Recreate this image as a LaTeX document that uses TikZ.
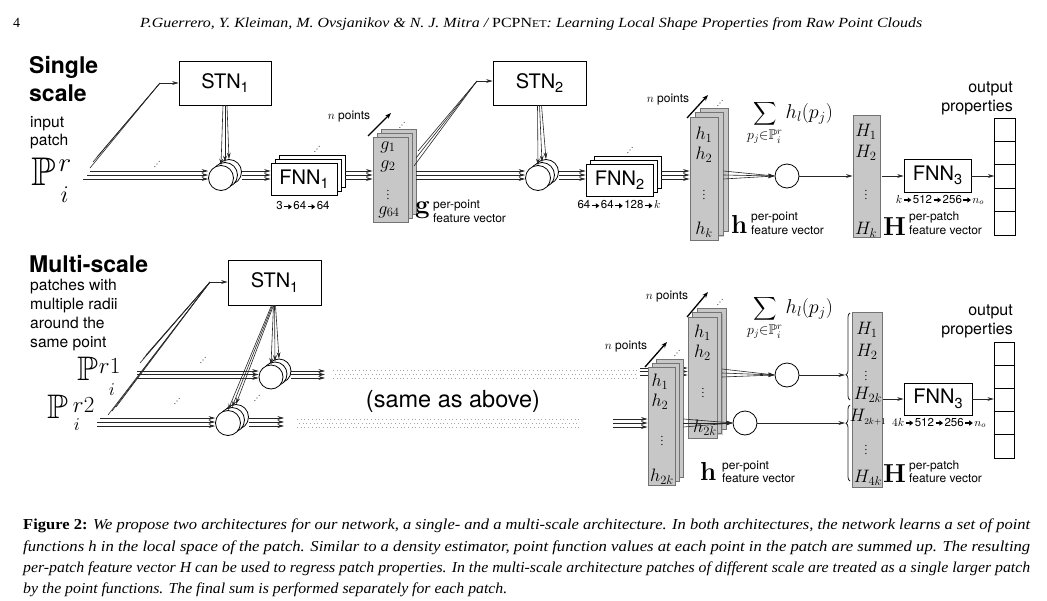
\RequirePackage{fix-cm}
\documentclass[tikz,border=0pt]{standalone}
\usepackage{graphicx}
\usepackage{exscale}
\usepackage{amssymb}
\DeclareFontFamily{U}{msb}{}
\DeclareFontShape{U}{msb}{m}{n}{<-> msbm10}{}
\usepackage[no-math]{fontspec}
\setmainfont{Liberation Serif}
\setsansfont{TeX Gyre Heros}
\usetikzlibrary{arrows.meta,shadows,decorations.pathreplacing,calc}
\newcommand\lsub[1]{\raisebox{-4.5pt}{\fontsize{14.5}{14.5}\selectfont #1}}
\newcommand\rar{\kern1pt\tikz[baseline=-3.2pt]\draw[line width=1.1pt,-{Triangle[length=3.6pt,width=5pt]}] (0pt,0pt)--(7.5pt,0pt);\kern1pt}
\newcommand\udots[1]{\fill[black!75] ($(#1)+(-2.2,2.6)$) circle (0.6) (#1) circle (0.6) ($(#1)+(2.2,-2.6)$) circle (0.6);}
\newcommand\bigsum{\mathop{\vcenter{\hbox{\resizebox*{!}{26pt}{$\displaystyle\sum$}}}}\limits}
\begin{document}
\begin{tikzpicture}[x=1pt,y=-1pt,
  ln/.style={line width=0.6pt, draw=black!85},
  arr/.style={ln, -{Stealth[length=6.5pt,width=3.8pt]}},
  box/.style={draw, line width=0.8pt, fill=white, inner sep=0pt, font=\sffamily\fontsize{20}{20}\selectfont},
  crc/.style={circle, draw, line width=0.8pt, fill=white, inner sep=0pt},
  col/.style={rectangle, draw=black!55, line width=0.9pt, fill=black!22, inner sep=0pt, drop shadow={shadow xshift=1.2pt, shadow yshift=-1.2pt, opacity=0.4}},
  cell/.style={draw, line width=0.8pt, inner sep=0pt, minimum width=20.5pt},
  ttl/.style={font=\sffamily\bfseries\fontsize{23}{26}\selectfont, anchor=base west, inner sep=0pt},
  desc/.style={font=\sffamily\fontsize{15.6}{19}\selectfont, anchor=base west, inner sep=0pt},
  sm/.style={font=\sffamily\fontsize{12}{13}\selectfont, inner sep=0pt},
  smw/.style={sm, anchor=base west},
  dim/.style={font=\sffamily\fontsize{11.5}{12}\selectfont, inner sep=0pt},
  mlab/.style={font=\fontsize{18}{18}\selectfont, inner sep=0pt},
  vd/.style={font=\fontsize{11}{11}\selectfont, inner sep=0pt},
  bigl/.style={font=\fontsize{26}{26}\selectfont, inner sep=0pt, anchor=base west},
  npt/.style={line width=1.3pt, -{Stealth[length=6pt,width=4.5pt]}},
  dotband/.style={line width=0.9pt, draw=black!35, dash pattern=on 0.9pt off 2.8pt},
  serif/.style={inner sep=0pt, anchor=base west},
  sumf/.style={font=\fontsize{20}{20}\selectfont, inner sep=0pt},
]
\useasboundingbox (0,0) rectangle (1047,600);

% ---------- header ----------
\node[serif, font=\fontsize{14}{14}\selectfont] (pg) at (13,27) {4};
\node[serif, font=\fontsize{14}{14}\selectfont] (hd) at (140,27) {\resizebox{782pt}{\height}{\itshape P.Guerrero, Y. Kleiman, M. Ovsjanikov \& N. J. Mitra / {\upshape PCPN{\fontsize{10.5}{10}\selectfont ET}}: Learning Local Shape Properties from Raw Point Clouds}};

% ---------- top: single scale ----------
\node[ttl] (t1) at (29,73) {Single};
\node[ttl] (t2) at (29,101) {scale};
\node[desc] (t3) at (30,127) {input};
\node[desc] (t4) at (30,145) {patch};
\node[serif] (Ptop) at (31,185) {\fontsize{40}{40}\selectfont$\mathbb{P}$\kern3pt\rlap{\raisebox{14pt}{\fontsize{27}{27}\selectfont$r$}}\kern2pt\raisebox{-17pt}{\fontsize{24}{24}\selectfont$i$}};

\node[box, minimum width=92pt, minimum height=44pt] (stn1) at (225,83) {STN\lsub{1}};
\node[box, minimum width=66pt, minimum height=32pt] (fnn1c) at (312,171) {};
\node[box, minimum width=66pt, minimum height=32pt] (fnn1b) at (308,175) {};
\node[box, minimum width=66pt, minimum height=32pt] (fnn1a) at (304,179) {FNN\lsub{1}};
\node[crc, minimum size=25pt] (ca3) at (229,172) {};
\node[crc, minimum size=25pt] (ca2) at (225,175) {};
\node[crc, minimum size=25pt] (ca1) at (221,178) {};
\node[col, minimum width=35pt, minimum height=85pt] (g3) at (398.5,171.5) {};
\node[col, minimum width=35pt, minimum height=85pt] (g2) at (394.5,175.5) {};
\node[col, minimum width=35pt, minimum height=85pt] (g1) at (390.5,179.5) {};
\node[box, minimum width=93pt, minimum height=44pt] (stn2) at (539.5,83) {STN\lsub{2}};
\node[crc, minimum size=25pt] (cb3) at (546,172) {};
\node[crc, minimum size=25pt] (cb2) at (542,175) {};
\node[crc, minimum size=25pt] (cb1) at (538,178) {};
\node[box, minimum width=67pt, minimum height=32pt] (fnn2c) at (627.5,172) {};
\node[box, minimum width=67pt, minimum height=32pt] (fnn2b) at (623.5,176) {};
\node[box, minimum width=67pt, minimum height=32pt] (fnn2a) at (619.5,180) {FNN\lsub{2}};
\node[col, minimum width=28pt, minimum height=123pt] (h3) at (714,169.5) {};
\node[col, minimum width=28pt, minimum height=123pt] (h2) at (709,174) {};
\node[col, minimum width=28pt, minimum height=123pt] (h1) at (704,178.5) {};
\node[crc, minimum size=24pt] (cc) at (787,176) {};
\node[col, minimum width=27pt, minimum height=122pt] (Hc) at (866.5,176) {};
\node[box, minimum width=67pt, minimum height=33pt] (fnn3) at (937.5,175.5) {FNN\lsub{3}};
\foreach \k in {1,...,5}{\node[cell, minimum height=23.4pt] (o\k) at (1005,{106.3+23.4*\k}) {};}

% top connectors
\coordinate (i1) at (90,171); \coordinate (i2) at (87,175); \coordinate (i3) at (83,179);
\foreach \c in {i1,i2,i3} \draw[arr] (\c) -- (ca1.west |- \c);
\coordinate (u1) at (90,168); \coordinate (u2) at (93,162); \coordinate (u3) at (97,157);
\coordinate (j1) at (160,83);
\foreach \c in {u1,u2,u3} \draw[ln] (\c) -- (j1);
\draw[arr] (j1) -- (stn1.west);
\draw[arr] ([xshift=-2pt]stn1.south) -- (ca1.north);
\draw[arr] (stn1.south) -- (ca2.north);
\draw[arr] ([xshift=2pt]stn1.south) -- (ca3.north);
\foreach \yy in {171,175,179} \draw[arr] (ca3.east |- 0,\yy) -- (fnn1a.west |- 0,\yy);
\foreach \yy in {171,175,179} \draw[arr] (fnn1c.east |- 0,\yy) -- (g1.west |- 0,\yy);
\foreach \yy in {171,175,179} \draw[arr] (g3.east |- 0,\yy) -- (cb1.west |- 0,\yy);
\coordinate (v1) at (414,166); \coordinate (v2) at (416,158); \coordinate (v3) at (418,151);
\coordinate (j2) at (477,81);
\foreach \c in {v1,v2,v3} \draw[ln] (\c) -- (j2);
\draw[arr] (j2) -- (stn2.west |- j2);
\draw[arr] ([xshift=-2pt]stn2.south) -- (cb1.north);
\draw[arr] (stn2.south) -- (cb2.north);
\draw[arr] ([xshift=2pt]stn2.south) -- (cb3.north);
\foreach \yy in {171,175,179} \draw[arr] (cb3.east |- 0,\yy) -- (fnn2a.west |- 0,\yy);
\foreach \yy in {171,175,179} \draw[arr] (fnn2c.east |- 0,\yy) -- (h1.west |- 0,\yy);
\foreach \yy in {171,175,179} \draw[arr] (h2.east |- 0,\yy) -- (cc.west);
\draw[arr] (cc.east) -- (Hc.west |- cc.east);
\draw[arr] ($(Hc.east |- cc)+(2,0)$) -- (fnn3.west |- cc);
\draw[arr] (fnn3.east |- cc) -- (o3.west |- cc);

% top n points
\coordinate (n1s) at (368,136); \coordinate (n1e) at (391,113);
\draw[npt] (n1s) -- (n1e);
\node[sm] (np1) at (349,117) {$n$ points};
\coordinate (n2s) at (687,118); \coordinate (n2e) at (708,95);
\draw[npt] (n2s) -- (n2e);
\node[sm] (np2) at (668,100) {$n$ points};

% top dots
\udots{157,164}
\udots{317,149}
\udots{402,125}
\udots{630,150}
\udots{720,103}

% top labels
\node[mlab] at (388,147) {$g_1$};
\node[mlab] at (388,166) {$g_2$};
\node[vd] at (388,192) {$\vdots$};
\node[mlab] at (389,212) {$g_{64}$};
\node[mlab] at (704,135) {$h_1$};
\node[mlab] at (704,155) {$h_2$};
\node[vd] at (704,192) {$\vdots$};
\node[mlab] at (704,230) {$h_k$};
\node[mlab] at (866,132) {$H_1$};
\node[mlab] at (866,153) {$H_2$};
\node[vd] at (866,192) {$\vdots$};
\node[mlab] at (866,230) {$H_k$};
\node[bigl] (gB) at (415,213) {$\mathbf{g}$};
\node[smw] at (433,208) {per-point};
\node[smw] at (433,222) {feature vector};
\node[bigl] (hB) at (731,233) {$\mathbf{h}$};
\node[smw] at (751,220) {per-point};
\node[smw] at (751,234) {feature vector};
\node[bigl] (HB) at (883,235) {$\mathbf{H}$};
\node[smw] at (909,220) {per-patch};
\node[smw] at (909,234) {feature vector};
\node[sumf] (sum1) at (790,123) {$\bigsum_{p_j\in\mathbb{P}_i^r} h_l(p_j)$};
\node[dim] (d1) at (303,206) {3\rar 64\rar 64};
\node[dim] (d2) at (619,205) {64\rar 64\rar 128\rar $k$};
\node[dim] (d3) at (940,200) {$k$\rar 512\rar 256\rar $n_o$};
\node[font=\sffamily\fontsize{16}{19}\selectfont, inner sep=0pt, anchor=base east] at (1013,92) {output};
\node[font=\sffamily\fontsize{16}{19}\selectfont, inner sep=0pt, anchor=base east] at (1013,111) {properties};

% ---------- bottom: multi-scale ----------
\node[ttl] (m1) at (29,272) {Multi-scale};
\node[desc] at (30,290) {patches with};
\node[desc] at (30,309) {multiple radii};
\node[desc] at (30,328) {around the};
\node[desc] at (30,347) {same point};
\node[serif] (P1) at (77,380) {\fontsize{34}{34}\selectfont$\mathbb{P}$\kern1pt\rlap{\raisebox{7pt}{\fontsize{23}{23}\selectfont$r1$}}\kern10pt\raisebox{-15pt}{\fontsize{18}{18}\selectfont$i$}};
\node[serif] (P2) at (47,418) {\fontsize{34}{34}\selectfont$\mathbb{P}$\kern5pt\rlap{\raisebox{6pt}{\fontsize{23}{23}\selectfont$r2$}}\kern1pt\raisebox{-12pt}{\fontsize{18}{18}\selectfont$i$}};

\node[box, minimum width=93pt, minimum height=45pt] (stn1b) at (274.5,282.5) {STN\lsub{1}};
\node[crc, minimum size=24pt] (cd3) at (279,371) {};
\node[crc, minimum size=24pt] (cd2) at (275,374) {};
\node[crc, minimum size=24pt] (cd1) at (271,377) {};
\node[crc, minimum size=25pt] (ce3) at (236,417) {};
\node[crc, minimum size=25pt] (ce2) at (232,420) {};
\node[crc, minimum size=25pt] (ce1) at (228,423) {};

\coordinate (k1) at (137,371); \coordinate (k2) at (137,374.5); \coordinate (k3) at (137,378);
\foreach \c in {k1,k2,k3} \draw[arr] (\c) -- (cd1.west |- \c);
\coordinate (q1) at (100,418); \coordinate (q2) at (97,422); \coordinate (q3) at (97,426);
\foreach \c in {q1,q2,q3} \draw[arr] (\c) -- (ce1.west |- \c);
\coordinate (w1) at (140,363); \coordinate (w2) at (143,359); \coordinate (w3) at (146,355);
\coordinate (w4) at (108,415); \coordinate (w5) at (112,411); \coordinate (w6) at (116,407);
\coordinate (j3) at (210,282);
\foreach \c in {w1,w2,w3,w4,w5,w6} \draw[ln] (\c) -- (j3);
\draw[arr] (j3) -- (stn1b.west |- j3);
\draw[arr] ([xshift=-1pt]stn1b.south) -- (cd1.north);
\draw[arr] (stn1b.south) -- (cd2.north);
\draw[arr] ([xshift=1pt]stn1b.south) -- (cd3.north);
\draw[arr] ([xshift=-3pt]stn1b.south) -- (ce1.north);
\draw[arr] ([xshift=-2pt]stn1b.south) -- (ce2.north);
\draw[arr] ([xshift=-1pt]stn1b.south) -- (ce3.north);
\foreach \yy [count=\n] in {371,374.5,378} {\coordinate (e\n) at (325,\yy); \draw[arr] (cd3.east |- e\n) -- (e\n);}
\foreach \yy [count=\n] in {418,422,426} {\coordinate (f\n) at (284,\yy); \draw[arr] (ce3.east |- f\n) -- (f\n);}
\draw[dotband] (333,370) -- (637,370);
\draw[dotband, dash phase=1.8pt] (333,374) -- (637,374);
\draw[dotband] (333,378) -- (637,378);
\draw[dotband] (297,419) -- (580,419);
\draw[dotband, dash phase=1.8pt] (297,423) -- (580,423);
\draw[dotband] (297,427) -- (580,427);
\node[font=\sffamily\fontsize{23.5}{24}\selectfont, inner sep=0pt] (same) at (453,401) {(same as above)};

% stack B (r1)
\node[col, minimum width=29pt, minimum height=121pt] (b3) at (711.5,368.5) {};
\node[col, minimum width=29pt, minimum height=121pt] (b2) at (707,373) {};
\node[col, minimum width=29pt, minimum height=121pt] (b1) at (702.5,377.5) {};
\foreach \yy [count=\n] in {368,371.5,375} {\coordinate (s\n) at (640,\yy); \draw[arr] (s\n) -- (b1.west |- s\n);}
\node[mlab] at (702.5,333) {$h_1$};
\node[mlab] at (702.5,353) {$h_2$};
\node[vd] at (703,390) {$\vdots$};
\node[mlab] at (705,428) {$h_{2k}$};
% stack A (r2)
\node[col, minimum width=27pt, minimum height=118pt] (a3) at (669.5,418) {};
\node[col, minimum width=27pt, minimum height=118pt] (a2) at (665.5,422) {};
\node[col, minimum width=27pt, minimum height=118pt] (a1) at (661.5,426) {};
\foreach \yy [count=\n] in {419,423,427} {\coordinate (r\n) at (613,\yy); \draw[arr] (r\n) -- (a1.west |- r\n);}
\node[mlab] at (660,382) {$h_1$};
\node[mlab] at (660,402) {$h_2$};
\node[vd] at (662,438) {$\vdots$};
\node[mlab] at (662,477) {$h_{2k}$};

\node[crc, minimum size=24pt] (cf) at (787,375) {};
\node[crc, minimum size=24pt] (cg) at (745,423) {};
\foreach \yy in {369,373,377} \draw[arr] (b2.east |- 0,\yy) -- (cf.west);
\foreach \yy in {419,423,427} \draw[arr] (a3.east |- 0,\yy) -- (cg.west);

\node[col, minimum width=30pt, minimum height=175pt] (Hb) at (867,399.5) {};
\coordinate (br1) at (845,375); \coordinate (br2) at (845,423);
\draw[arr] (cf.east) -- (br1);
\draw[arr] (cg.east) -- (br2);
\draw[ln, line width=0.8pt, decorate, decoration={brace, amplitude=4pt, aspect=0.29}] (850,400) -- (850,313);
\draw[ln, line width=0.8pt, decorate, decoration={brace, amplitude=4pt, aspect=0.76}] (850,481) -- (850,405);
\node[box, minimum width=68pt, minimum height=32pt] (fnn3b) at (938,399) {FNN\lsub{3}};
\foreach \k in {1,...,5}{\node[cell, minimum height=23.2pt] (p\k) at (1004.5,{330.4+23.2*\k}) {};}
\draw[arr] ($(Hb.east |- fnn3b)+(1,0)$) -- (fnn3b.west);
\draw[arr] (fnn3b.east) -- (p3.west |- fnn3b);

\node[mlab] at (867,330) {$H_1$};
\node[mlab] at (867,352) {$H_2$};
\node[vd] at (866,373) {$\vdots$};
\node[mlab] at (868,395) {$H_{2k}$};
\node[mlab] at (868,417) {$H_{\scriptscriptstyle 2k+1}$};
\node[vd] at (866,447) {$\vdots$};
\node[mlab] at (868,478) {$H_{4k}$};

% bottom n points
\coordinate (n3s) at (645,367); \coordinate (n3e) at (667,342);
\draw[npt] (n3s) -- (n3e);
\node[sm] (np3) at (626,347) {$n$ points};
\coordinate (n4s) at (687,317); \coordinate (n4e) at (708,292);
\draw[npt] (n4s) -- (n4e);
\node[sm] (np4) at (667,297) {$n$ points};

% bottom dots
\udots{203,360}
\udots{177,401}
\udots{257,398}
\udots{677,353}
\udots{720,302}

\node[bigl] (hB2) at (700,480) {$\mathbf{h}$};
\node[smw] at (722,469) {per-point};
\node[smw] at (722,482) {feature vector};
\node[bigl] (HB2) at (883,482) {$\mathbf{H}$};
\node[smw] at (909,469) {per-patch};
\node[smw] at (909,482) {feature vector};
\node[sumf] (sum2) at (790,318) {$\bigsum_{p_j\in\mathbb{P}_i^r} h_l(p_j)$};
\node[dim] (d4) at (939,423) {$4k$\rar 512\rar 256\rar $n_o$};
\node[font=\sffamily\fontsize{16}{19}\selectfont, inner sep=0pt, anchor=base east] at (1013,315) {output};
\node[font=\sffamily\fontsize{16}{19}\selectfont, inner sep=0pt, anchor=base east] at (1013,334) {properties};

% ---------- caption ----------
\node[serif, font=\fontsize{15.2}{15}\selectfont] (c1) at (23,529) {\resizebox{1007pt}{\height}{\textbf{Figure 2:} \itshape We propose two architectures for our network, a single- and a multi-scale architecture. In both architectures, the network learns a set of point}};
\node[serif, font=\fontsize{15.2}{15}\selectfont] (c2) at (23,551) {\resizebox{1007pt}{\height}{\itshape functions h in the local space of the patch. Similar to a density estimator, point function values at each point in the patch are summed up. The resulting}};
\node[serif, font=\fontsize{15.2}{15}\selectfont] (c3) at (23,572) {\resizebox{1007pt}{\height}{\itshape per-patch feature vector H can be used to regress patch properties. In the multi-scale architecture patches of different scale are treated as a single larger patch}};
\node[serif, font=\fontsize{15.2}{15}\selectfont] (c4) at (23,593) {\resizebox{484pt}{\height}{\itshape by the point functions. The final sum is performed separately for each patch.}};
\end{tikzpicture}
\end{document}
